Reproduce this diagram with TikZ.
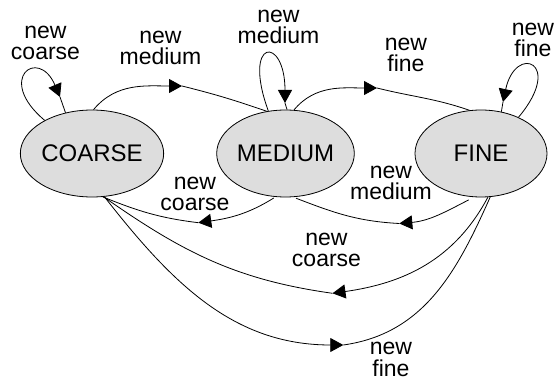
\documentclass[tikz,border=0pt]{standalone}
\usepackage{fontspec}
\setmainfont{Liberation Sans}
\usetikzlibrary{arrows.meta,shapes.geometric}
\definecolor{statefill}{RGB}{221,221,221}
\begin{document}
\begin{tikzpicture}[x=1pt,y=1pt,
  state/.style={ellipse, draw, line width=0.8pt, fill=statefill,
    minimum width=132pt, minimum height=87pt, inner sep=0pt,
    font=\fontsize{24}{24}\selectfont},
  lbl/.style={align=center, inner sep=0pt, font=\fontsize{23}{21.5}\selectfont},
  edge/.style={line width=0.8pt},
  tip/.style={edge, -{Triangle[length=13pt,width=14pt]}}]
\useasboundingbox (0,0) rectangle (558,381);

% states
\node[state] (coarse) at (92,227.5)  {COARSE};
\node[state] (medium) at (285.5,227.5) {MEDIUM};
\node[state] (fine)   at (481,227.5)  {FINE};

% transition labels
\node[lbl] (lcc)  at (45.5,338.25)  {new\\coarse};
\node[lbl] (lcm)  at (160.5,333.25) {new\\medium};
\node[lbl] (lmm)  at (278.5,354.25) {new\\medium};
\node[lbl] (lmf)  at (406,326.25)   {new\\fine};
\node[lbl] (lff)  at (533,341.25)   {new\\fine};
\node[lbl] (lmc)  at (195,187.25)   {new\\coarse};
\node[lbl] (lfm)  at (391,198.25)   {new\\medium};
\node[lbl] (lfc)  at (326.5,131.25) {new\\coarse};
\node[lbl] (lcf)  at (391,21.5)     {new\\fine};

% arrowhead positions along the transitions
\coordinate (t1) at (60,284);
\coordinate (t2) at (182,295);
\coordinate (t3) at (285,278);
\coordinate (t4) at (377,293);
\coordinate (t5) at (503,279);
\coordinate (t6) at (198.3,158.3);
\coordinate (t7) at (399.3,157.5);
\coordinate (t8) at (332.5,87.7);
\coordinate (t9) at (343.3,36);

% coarse self-loop
\draw[tip] (coarse.145) to[out=140,in=113,out distance=65pt,in distance=55pt] (t1);
\draw[edge] (t1) -- (coarse.123);

% coarse -> medium
\draw[tip] (coarse.88) to[out=50,in=180] (t2);
\draw[edge] (t2) to[out=-14,in=161] (medium.114);

% medium self-loop
\draw[tip] (medium.112) to[out=110,in=90,out distance=78pt,in distance=68pt] (t3);
\draw[edge] (t3) -- (medium.88);

% medium -> fine
\draw[tip] (medium.79) to[out=50,in=180] (t4);
\draw[edge] (t4) to[out=-14,in=161] (fine.105);

% fine self-loop
\draw[tip] (fine.44) to[out=50,in=78,out distance=72pt,in distance=60pt] (t5);
\draw[edge] (t5) -- (fine.64);

% medium -> coarse
\draw[tip,shorten <=2pt] (medium.257) to[out=212,in=8] (t6);
\draw[edge] (t6) to[out=173,in=-22] (coarse.284);

% fine -> medium
\draw[tip,shorten <=6pt] (fine.261) to[out=207,in=5] (t7);
\draw[edge,shorten >=3pt] (t7) to[out=177,in=-21] (medium.280);

% fine -> coarse
\draw[tip] (fine.279) to[out=242,in=8] (t8);
\draw[edge] (t8) to[out=172,in=-35] (coarse.285);

% coarse -> fine
\draw[tip] (coarse.286) to[out=-52,in=180] (t9);
\draw[edge] (t9) to[out=8,in=-114] (fine.282);
\end{tikzpicture}
\end{document}
